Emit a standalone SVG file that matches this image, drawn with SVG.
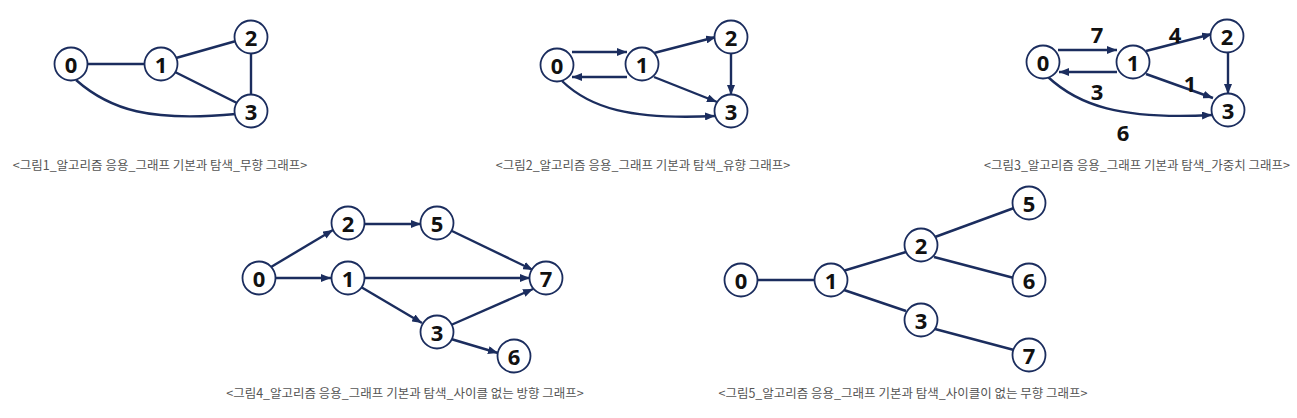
<svg xmlns="http://www.w3.org/2000/svg" width="1297" height="418" viewBox="0 0 1297 418">
<defs>
<style>
.n{fill:#fff;stroke:#1b2d5e;stroke-width:1.8}
.t{font-family:"Noto Sans","DejaVu Sans",sans-serif;font-weight:bold;font-size:22px;fill:#111;text-anchor:middle;dominant-baseline:central}
.e{fill:none;stroke:#1b2d5e;stroke-width:2.4}
.a{marker-end:url(#ah)}
.w{font-family:"Noto Sans","DejaVu Sans",sans-serif;font-weight:bold;font-size:22px;fill:#111;text-anchor:middle;dominant-baseline:central}
.c{font-family:"Noto Sans CJK KR","Noto Sans",sans-serif;font-size:12.5px;fill:#555;text-anchor:middle}
</style>
<marker id="ah" viewBox="0 0 10 8" refX="10" refY="4" markerWidth="10" markerHeight="8" markerUnits="userSpaceOnUse" orient="auto">
<path d="M0,0 L10,4 L0,8 z" fill="#1b2d5e"/>
</marker>
</defs>
<g id="connectors">
<line class="e" x1="87" y1="64" x2="145" y2="64"/>
<line class="e" x1="176" y1="58" x2="236" y2="41"/>
<line class="e" x1="251" y1="53" x2="251" y2="95"/>
<line class="e" x1="175" y1="72" x2="237" y2="103"/>
<path class="e" d="M76 80 C110 110,150 122,236 114"/>
<line class="e a" x1="572" y1="52" x2="627" y2="52"/>
<line class="e a" x1="627" y1="77" x2="572" y2="77"/>
<line class="e a" x1="654" y1="53" x2="716" y2="37"/>
<line class="e a" x1="731" y1="53" x2="731" y2="95"/>
<line class="e a" x1="654" y1="77" x2="717" y2="102"/>
<path class="e a" d="M562 81 C590 108,630 120,715 116"/>
<line class="e a" x1="1058" y1="50" x2="1117" y2="50"/>
<line class="e a" x1="1117" y1="72" x2="1059" y2="72"/>
<line class="e a" x1="1146" y1="51" x2="1212" y2="34"/>
<line class="e a" x1="1228" y1="52" x2="1228" y2="94"/>
<line class="e a" x1="1146" y1="74" x2="1213" y2="98"/>
<path class="e a" d="M1048 77 C1078 105,1120 120,1212 115"/>
<line class="e a" x1="271" y1="267" x2="333" y2="230"/>
<line class="e a" x1="364" y1="224" x2="421" y2="224"/>
<line class="e a" x1="452" y1="231" x2="533" y2="270"/>
<line class="e a" x1="275" y1="278" x2="331" y2="278"/>
<line class="e a" x1="364" y1="278" x2="530" y2="278"/>
<line class="e a" x1="361" y1="287" x2="422" y2="323"/>
<line class="e a" x1="451" y1="325" x2="533" y2="289"/>
<line class="e a" x1="451" y1="339" x2="498" y2="353"/>
<line class="e" x1="757" y1="280" x2="815" y2="280"/>
<line class="e" x1="843" y1="271" x2="906" y2="252"/>
<line class="e" x1="935" y1="237" x2="1014" y2="208"/>
<line class="e" x1="934" y1="257" x2="1014" y2="278"/>
<line class="e" x1="844" y1="290" x2="906" y2="311"/>
<line class="e" x1="935" y1="329" x2="1014" y2="350"/>
</g>
<g id="fig1">
<g id="f1n0"><circle class="n" cx="71" cy="64" r="16.5"/><text class="t" x="71" y="64">0</text></g>
<g id="f1n1"><circle class="n" cx="161" cy="64" r="16.5"/><text class="t" x="161" y="64">1</text></g>
<g id="f1n2"><circle class="n" cx="251" cy="37" r="16.5"/><text class="t" x="251" y="37">2</text></g>
<g id="f1n3"><circle class="n" cx="251" cy="111" r="16.5"/><text class="t" x="251" y="111">3</text></g>
</g>
<g id="fig2">
<g id="f2n0"><circle class="n" cx="557" cy="65" r="16.5"/><text class="t" x="557" y="65">0</text></g>
<g id="f2n1"><circle class="n" cx="642" cy="64" r="16.5"/><text class="t" x="642" y="64">1</text></g>
<g id="f2n2"><circle class="n" cx="731" cy="37" r="16.5"/><text class="t" x="731" y="37">2</text></g>
<g id="f2n3"><circle class="n" cx="731" cy="111" r="16.5"/><text class="t" x="731" y="111">3</text></g>
</g>
<g id="fig3">
<g id="f3n0"><circle class="n" cx="1043" cy="62" r="16.5"/><text class="t" x="1043" y="62">0</text></g>
<g id="f3n1"><circle class="n" cx="1133" cy="62" r="16.5"/><text class="t" x="1133" y="62">1</text></g>
<g id="f3n2"><circle class="n" cx="1227" cy="36" r="16.5"/><text class="t" x="1227" y="36">2</text></g>
<g id="f3n3"><circle class="n" cx="1228" cy="110" r="16.5"/><text class="t" x="1228" y="110">3</text></g>
<g id="f3w">
<text class="w" x="1097" y="34">7</text>
<text class="w" x="1175" y="34">4</text>
<text class="w" x="1190" y="83">1</text>
<text class="w" x="1097" y="91">3</text>
<text class="w" x="1123" y="132">6</text>
</g>
</g>
<g id="fig4">
<g id="f4n0"><circle class="n" cx="259" cy="278" r="16.5"/><text class="t" x="259" y="278">0</text></g>
<g id="f4n2"><circle class="n" cx="348" cy="223" r="16.5"/><text class="t" x="348" y="223">2</text></g>
<g id="f4n5"><circle class="n" cx="437" cy="223" r="16.5"/><text class="t" x="437" y="223">5</text></g>
<g id="f4n1"><circle class="n" cx="348" cy="278" r="16.5"/><text class="t" x="348" y="278">1</text></g>
<g id="f4n7"><circle class="n" cx="546" cy="278" r="16.5"/><text class="t" x="546" y="278">7</text></g>
<g id="f4n3"><circle class="n" cx="437" cy="332" r="16.5"/><text class="t" x="437" y="332">3</text></g>
<g id="f4n6"><circle class="n" cx="514" cy="356" r="16.5"/><text class="t" x="514" y="356">6</text></g>
</g>
<g id="fig5">
<g id="f5n0"><circle class="n" cx="741" cy="280" r="16.5"/><text class="t" x="741" y="280">0</text></g>
<g id="f5n1"><circle class="n" cx="831" cy="280" r="16.5"/><text class="t" x="831" y="280">1</text></g>
<g id="f5n2"><circle class="n" cx="921" cy="245" r="16.5"/><text class="t" x="921" y="245">2</text></g>
<g id="f5n3"><circle class="n" cx="921" cy="320" r="16.5"/><text class="t" x="921" y="320">3</text></g>
<g id="f5n5"><circle class="n" cx="1029" cy="203" r="16.5"/><text class="t" x="1029" y="203">5</text></g>
<g id="f5n6"><circle class="n" cx="1029" cy="280" r="16.5"/><text class="t" x="1029" y="280">6</text></g>
<g id="f5n7"><circle class="n" cx="1029" cy="355" r="16.5"/><text class="t" x="1029" y="355">7</text></g>
</g>
<g id="captions">
<text class="c" x="160" y="170">&lt;그림1_알고리즘 응용_그래프 기본과 탐색_무향 그래프&gt;</text>
<text class="c" x="643" y="170">&lt;그림2_알고리즘 응용_그래프 기본과 탐색_유향 그래프&gt;</text>
<text class="c" x="1137" y="170">&lt;그림3_알고리즘 응용_그래프 기본과 탐색_가중치 그래프&gt;</text>
<text class="c" x="405" y="398">&lt;그림4_알고리즘 응용_그래프 기본과 탐색_사이클 없는 방향 그래프&gt;</text>
<text class="c" x="903" y="398">&lt;그림5_알고리즘 응용_그래프 기본과 탐색_사이클이 없는 무향 그래프&gt;</text>
</g>
</svg>
